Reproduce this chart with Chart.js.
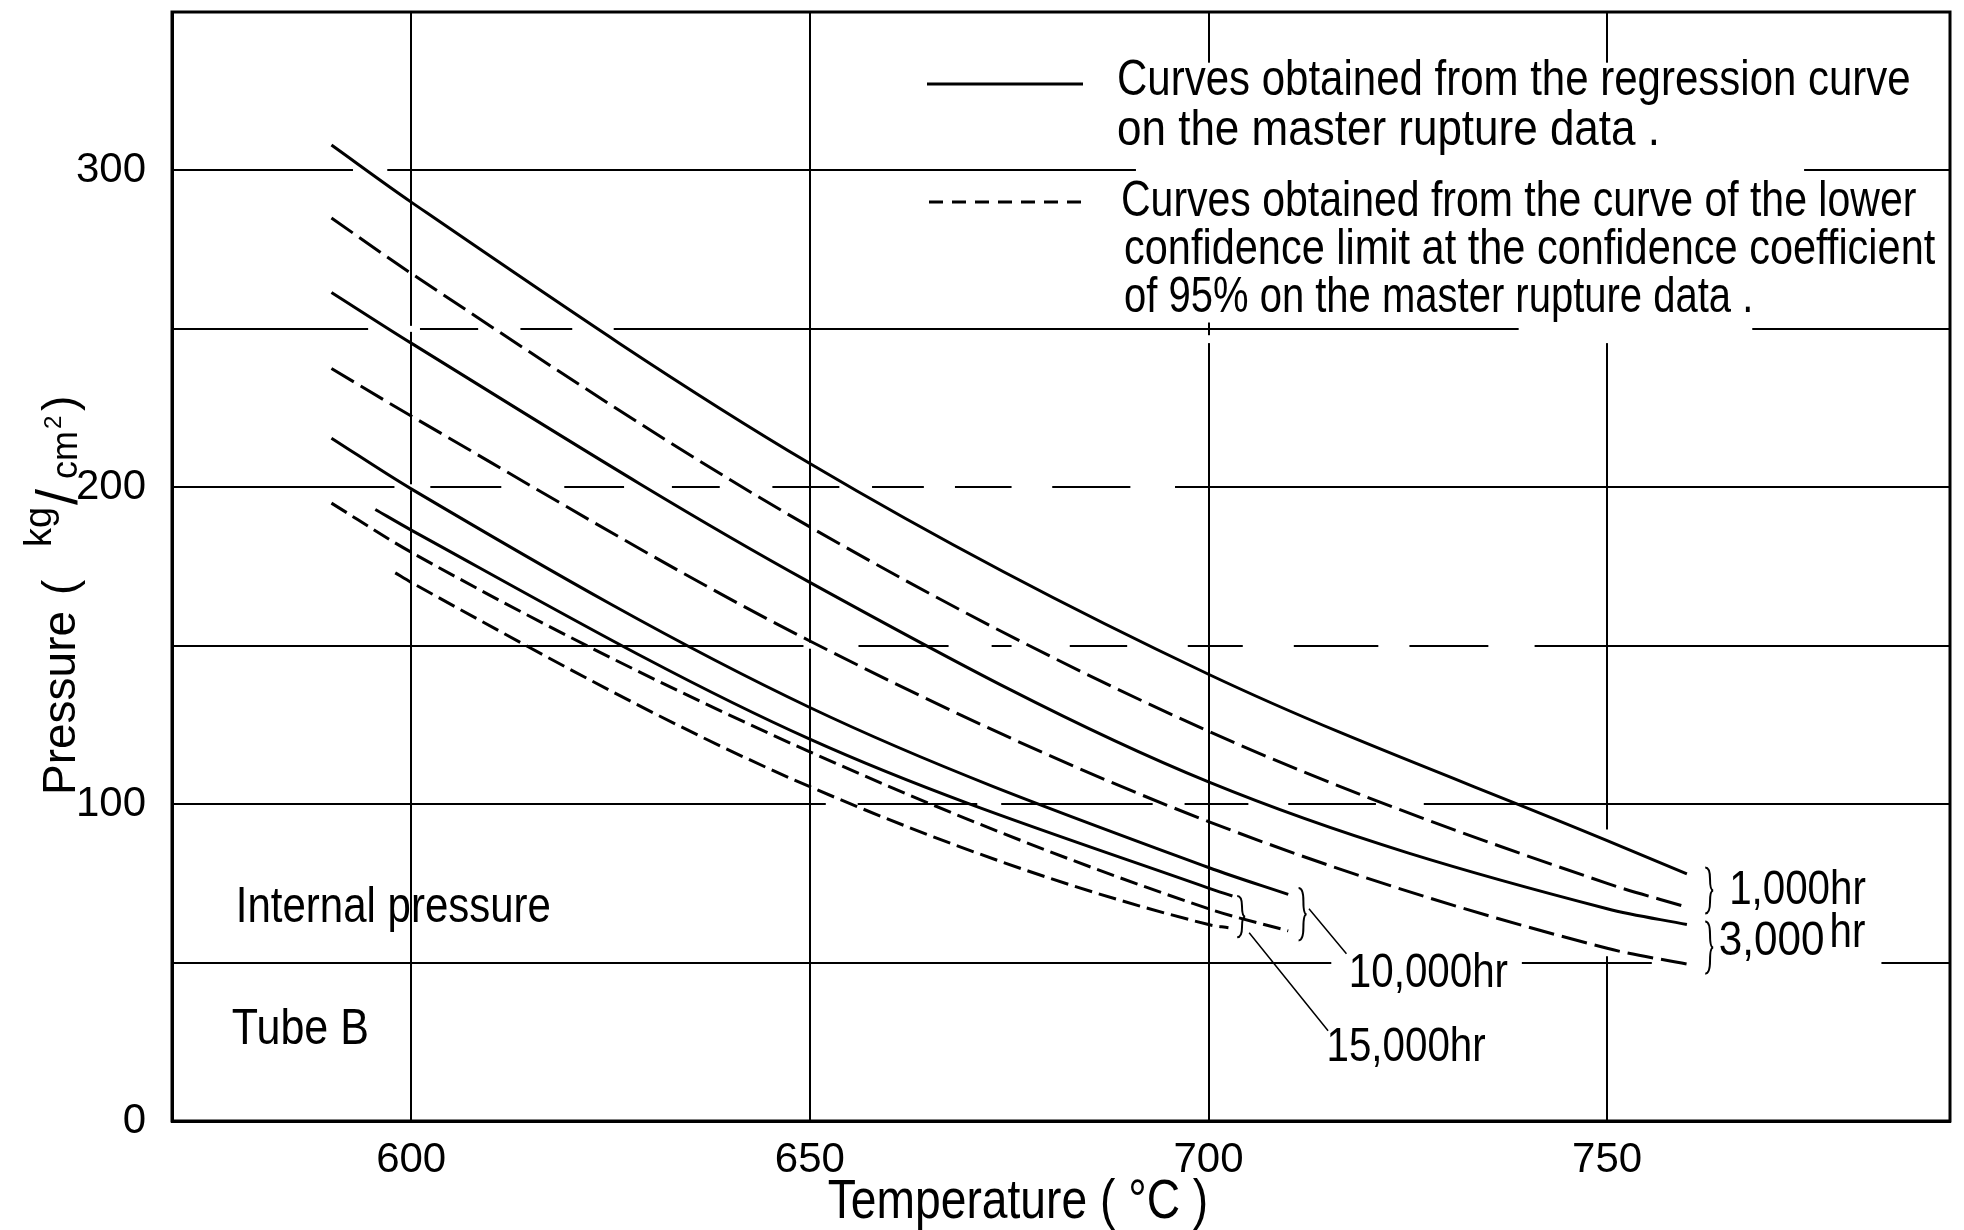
<!DOCTYPE html>
<html>
<head>
<meta charset="utf-8">
<script src="https://cdn.jsdelivr.net/npm/chart.js@4.4.1/dist/chart.umd.min.js"></script>
<style>
  html, body { margin: 0; padding: 0; background: #fff; }
</style>
</head>
<body>
<canvas id="chart" width="1964" height="1230"></canvas>
<script>
// Rupture pressure curves, Tube B (internal pressure)
const temp1000 = [590, 600, 650, 700, 750, 760];
const reg1000 = [308, 290, 207.5, 141, 88.5, 78];
const low1000 = [285, 267.5, 187.5, 123, 75, 67.5];

const temp3000 = [590, 600, 650, 700, 750, 760];
const reg3000 = [261.5, 245.5, 170, 107, 67, 62];
const low3000 = [237.5, 222.5, 151.5, 94.5, 54.5, 49.5];

const temp10000 = [590, 600, 650, 700, 710];
const reg10000 = [215.5, 199.5, 130.5, 80, 71.5];
const low10000 = [195, 179.5, 116.5, 67, 60];

const temp15000Reg = [595.5, 600, 650, 700, 703];
const reg15000 = [193, 186.5, 120.5, 73.5, 71];
const temp15000Low = [598, 600, 650, 700, 702.5];
const low15000 = [173, 170, 105.5, 62, 61];

const xTicks = [600, 650, 700, 750];
const yTicks = [0, 50, 100, 150, 200, 250, 300, 350];
const yLabels = [0, 100, 200, 300];

const legendRegression = ['Curves obtained from the regression curve', 'on the master rupture data .'];
const legendLower = ['Curves obtained from the curve of the lower',
    'confidence limit at the confidence coefficient',
    'of 95% on the master rupture data .'];

const SANS = '"Liberation Sans", Arial, sans-serif';
const SQUEEZE = 0.84;   // the lettering on the original is narrow

// places where the drawn grid is broken in the original [gridValue, from, to]
const hGaps = [
    [300, 592.7, 597], [300, 690.9, 774.7],
    [250, 594.6, 601.1], [250, 608.4, 613.7], [250, 620.2, 625.4], [250, 738.9, 768.2],
    [200, 597.9, 602.4], [200, 611.3, 619.2], [200, 626.7, 632.7], [200, 638.7, 645.3],
    [200, 653.7, 657.8], [200, 664.3, 668.2], [200, 675.3, 680.4], [200, 690.2, 695.8],
    [150, 649.2, 656.1], [150, 667.4, 672.8], [150, 675.3, 682.6], [150, 689.8, 697.4],
    [150, 704.3, 710.7], [150, 721.3, 725.2], [150, 735.1, 740.9],
    [100, 652, 656], [100, 671, 674], [100, 693, 697], [100, 705, 710], [100, 721, 727],
    [50, 715.4, 739.3], [50, 755.6, 784.4]
];
const vGaps = [[700, 252, 334], [700, 245.5, 248], [750, 245.5, 334], [750, 52, 92]];

function pts(xs, ys) {
    return xs.map((x, i) => ({ x: x, y: ys[i] }));
}

function curve(label, xs, ys, dash) {
    return {
        label: label,
        data: pts(xs, ys),
        borderColor: '#000',
        borderWidth: 3,
        borderDash: dash,
        pointRadius: 0,
        fill: false,
        cubicInterpolationMode: 'monotone'
    };
}

const LONG = [26, 8];
const SHORT = [18, 7];

function brace(ctx, x, y1, y2, w) {
    const ym = (y1 + y2) / 2;
    ctx.beginPath();
    ctx.moveTo(x, y1);
    ctx.quadraticCurveTo(x + w * 0.6, y1, x + w * 0.6, y1 + (ym - y1) * 0.5);
    ctx.quadraticCurveTo(x + w * 0.6, ym, x + w, ym);
    ctx.quadraticCurveTo(x + w * 0.6, ym, x + w * 0.6, ym + (y2 - ym) * 0.5);
    ctx.quadraticCurveTo(x + w * 0.6, y2, x, y2);
    ctx.stroke();
}

// narrow text: squeeze horizontally around the anchor
function narrow(ctx, text, x, y, k) {
    k = k || SQUEEZE;
    ctx.save();
    ctx.translate(x, y);
    ctx.scale(k, 1);
    ctx.fillText(text, 0, 0);
    ctx.restore();
    return ctx.measureText(text).width * k;
}

const annotate = {
    id: 'annotate',
    beforeDatasetsDraw(chart) {
        const ctx = chart.ctx;
        const xs = chart.scales.x, ys = chart.scales.y;
        ctx.save();
        ctx.fillStyle = '#fff';
        hGaps.forEach(g => {
            const y = ys.getPixelForValue(g[0]);
            const a = xs.getPixelForValue(g[1]), b = xs.getPixelForValue(g[2]);
            ctx.fillRect(a, y - 3, b - a, 6);
        });
        vGaps.forEach(g => {
            const x = xs.getPixelForValue(g[0]);
            const a = ys.getPixelForValue(g[2]), b = ys.getPixelForValue(g[1]);
            ctx.fillRect(x - 3, a, 6, b - a);
        });
        ctx.restore();
    },
    afterDraw(chart) {
        const ctx = chart.ctx;
        const area = chart.chartArea;
        const xs = chart.scales.x, ys = chart.scales.y;
        const px = v => xs.getPixelForValue(v);
        const py = v => ys.getPixelForValue(v);
        ctx.save();
        ctx.strokeStyle = '#000';
        ctx.fillStyle = '#000';

        // frame
        ctx.lineWidth = 3;
        ctx.strokeRect(area.left, area.top, area.right - area.left, area.bottom - area.top);

        // legend
        ctx.lineWidth = 3;
        ctx.beginPath();
        ctx.moveTo(927, 84);
        ctx.lineTo(1083, 84);
        ctx.stroke();
        ctx.setLineDash([14, 9]);
        ctx.beginPath();
        ctx.moveTo(929, 202);
        ctx.lineTo(1087, 202);
        ctx.stroke();
        ctx.setLineDash([]);

        ctx.font = '50px ' + SANS;
        ctx.textBaseline = 'middle';
        ctx.textAlign = 'left';
        narrow(ctx, legendRegression[0], 1117, 81);
        narrow(ctx, legendRegression[1], 1117, 131, 0.88);
        narrow(ctx, legendLower[0], 1121, 202, 0.82);
        narrow(ctx, legendLower[1], 1124, 250, 0.83);
        narrow(ctx, legendLower[2], 1124, 298, 0.8);

        // plot notes
        narrow(ctx, 'Internal pressure', px(578), py(67));
        narrow(ctx, 'Tube B', px(577.5), py(28.5), 0.86);

        // curve labels
        ctx.lineWidth = 2;
        const n1 = reg1000.length - 1, n3 = reg3000.length - 1;
        brace(ctx, px(762.3), py(reg1000[n1] + 2), py(low1000[n1] - 2), 8);
        brace(ctx, px(762.3), py(reg3000[n3] + 1), py(low3000[n3] - 3), 8);
        brace(ctx, px(711.3), py(reg10000[reg10000.length - 1] + 2), py(low10000[low10000.length - 1] - 3), 8);
        brace(ctx, px(703.6), py(reg15000[reg15000.length - 1]), py(low15000[low15000.length - 1] - 3), 8);

        ctx.lineWidth = 1.5;
        ctx.beginPath();
        ctx.moveTo(px(712.6), py(67));
        ctx.lineTo(px(717.3), py(52.8));
        ctx.moveTo(px(705.1), py(59.4));
        ctx.lineTo(px(715), py(28.5));
        ctx.stroke();

        ctx.font = '48px ' + SANS;
        narrow(ctx, '1,000hr', px(765.3), py(72.6));
        const w3 = narrow(ctx, '3,000', px(764), py(56.5), 0.88);
        narrow(ctx, 'hr', px(764) + w3 + 5, py(56.5) - 8);
        narrow(ctx, '10,000hr', px(717.6), py(46.4));
        narrow(ctx, '15,000hr', px(714.8), py(23.1));

        // x axis title
        ctx.font = '55px ' + SANS;
        ctx.textAlign = 'center';
        narrow(ctx, 'Temperature ( °C )', 1018, 1203);

        // y axis title, rotated
        ctx.translate(75, 795);
        ctx.rotate(-Math.PI / 2);
        ctx.textAlign = 'left';
        ctx.textBaseline = 'alphabetic';
        ctx.font = '46px ' + SANS;
        ctx.fillText('Pressure', 0, 0);
        ctx.fillText('(', 200, 0);
        ctx.font = '38px ' + SANS;
        ctx.fillText('kg', 248, -24);
        ctx.font = '58px ' + SANS;
        ctx.fillText('/', 290, 2);
        ctx.font = '36px ' + SANS;
        ctx.fillText('cm', 316, 2);
        const wcm = ctx.measureText('cm').width;
        ctx.font = '24px ' + SANS;
        ctx.fillText('2', 316 + wcm + 2, -14);
        ctx.font = '46px ' + SANS;
        ctx.fillText(')', 384, 0);

        ctx.restore();
    }
};

const chart = new Chart(document.getElementById('chart').getContext('2d'), {
    type: 'line',
    data: {
        datasets: [
            curve('1,000hr regression', temp1000, reg1000, []),
            curve('1,000hr lower limit', temp1000, low1000, LONG),
            curve('3,000hr regression', temp3000, reg3000, []),
            curve('3,000hr lower limit', temp3000, low3000, LONG),
            curve('10,000hr regression', temp10000, reg10000, []),
            curve('10,000hr lower limit', temp10000, low10000, SHORT),
            curve('15,000hr regression', temp15000Reg, reg15000, []),
            curve('15,000hr lower limit', temp15000Low, low15000, SHORT)
        ]
    },
    options: {
        responsive: false,
        animation: false,
        devicePixelRatio: 1,
        layout: { padding: { top: 12, right: 14, left: 0, bottom: 0 } },
        plugins: {
            legend: { display: false },
            tooltip: { enabled: false }
        },
        scales: {
            x: {
                type: 'linear',
                min: 570,
                max: 793,
                afterBuildTicks: s => { s.ticks = xTicks.map(v => ({ value: v })); },
                afterFit: s => { s.height = 109; s.paddingLeft = 0; s.paddingRight = 0; },
                ticks: {
                    color: '#000',
                    padding: 14,
                    font: { family: SANS, size: 42 },
                    maxRotation: 0
                },
                grid: { color: '#000', lineWidth: 2, drawTicks: false },
                border: { color: '#000', width: 3 }
            },
            y: {
                type: 'linear',
                min: 0,
                max: 350,
                afterBuildTicks: s => { s.ticks = yTicks.map(v => ({ value: v })); },
                afterFit: s => { s.width = 172; s.paddingTop = 0; s.paddingBottom = 0; },
                ticks: {
                    color: '#000',
                    padding: 26,
                    font: { family: SANS, size: 42 },
                    callback: v => yLabels.includes(v) ? String(v) : ''
                },
                grid: { color: '#000', lineWidth: 2, drawTicks: false },
                border: { color: '#000', width: 3 }
            }
        }
    },
    plugins: [annotate]
});
</script>
</body>
</html>
